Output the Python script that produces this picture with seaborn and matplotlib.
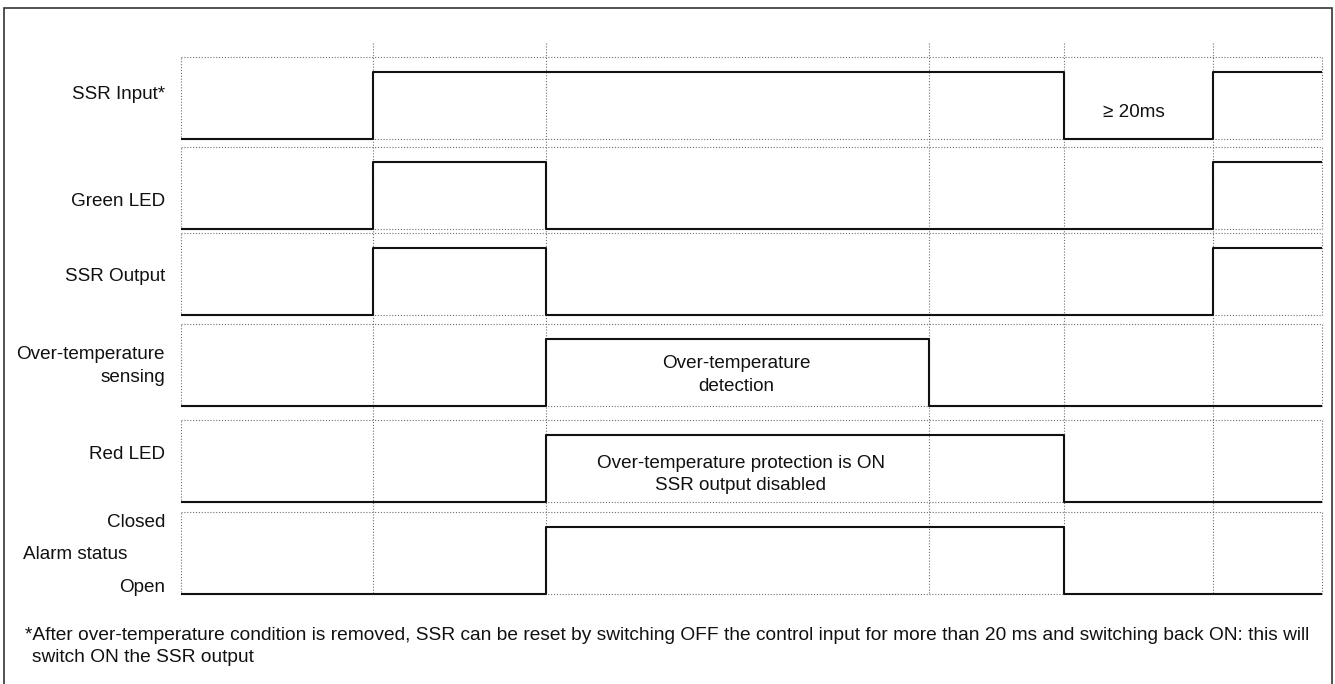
import matplotlib
matplotlib.use("Agg")
import matplotlib.pyplot as plt
from matplotlib.patches import Rectangle
import pandas as pd
import seaborn as sns

# Timing grid instants (arbitrary time units) and the signal traces
grid_times = [0, 19.2, 36.5, 74.8, 88.3, 103.2, 114.1]

signal_names = ["SSR Input*", "Green LED", "SSR Output",
                "Over-temperature sensing", "Red LED", "Alarm status"]
ssr_input_t = [0, 19.2, 88.3, 103.2, 114.1]
ssr_input_v = [0, 1, 0, 1, 1]
green_led_t = [0, 19.2, 36.5, 103.2, 114.1]
green_led_v = [0, 1, 0, 1, 1]
ssr_output_t = [0, 19.2, 36.5, 103.2, 114.1]
ssr_output_v = [0, 1, 0, 1, 1]
overtemp_t = [0, 36.5, 74.8, 114.1]
overtemp_v = [0, 1, 0, 0]
red_led_t = [0, 36.5, 88.3, 114.1]
red_led_v = [0, 1, 0, 0]
alarm_t = [0, 36.5, 88.3, 114.1]
alarm_v = [0, 1, 0, 0]

traces = [(ssr_input_t, ssr_input_v), (green_led_t, green_led_v),
          (ssr_output_t, ssr_output_v), (overtemp_t, overtemp_v),
          (red_led_t, red_led_v), (alarm_t, alarm_v)]

# layout of the rows (diagram units, downward)
W, H = 1335, 684
row_low = [139.3, 228.7, 315.5, 406, 502, 594.3]
amp = 67
box_pad = 15
y_top, y_bot = 43, 600
x_left, x_right = 180.5, 1321.7

rows = []
for name, (t, v), base in zip(signal_names, traces, row_low):
    for ti, vi in zip(t, v):
        rows.append({"signal": name, "time": ti, "y": base - vi * amp})
df = pd.DataFrame(rows)

sns.set_theme(style="white")
plt.rcParams["font.family"] = ["Liberation Sans", "DejaVu Sans"]

fig = plt.figure(figsize=(W / 100, H / 100), dpi=100)
ax = fig.add_axes([x_left / W, 1 - y_bot / H, (x_right - x_left) / W, (y_bot - y_top) / H])
ax.set_xlim(grid_times[0], grid_times[-1])
ax.set_ylim(y_bot, y_top)
ax.axis("off")

dot = dict(color="#6e6e6e", lw=0.8, linestyle=(0, (1, 1.6)))

# dotted row boxes and time grid
for base in row_low:
    ax.add_patch(Rectangle((grid_times[0], base - amp - box_pad), grid_times[-1] - grid_times[0],
                           amp + box_pad, fill=False, edgecolor=dot["color"], lw=dot["lw"],
                           linestyle=dot["linestyle"], clip_on=False))
ax.vlines(grid_times[1:-1], y_top, row_low[-1], **dot)

sns.lineplot(data=df, x="time", y="y", units="signal", estimator=None,
             drawstyle="steps-post", color="#111111", lw=1.5, ax=ax, legend=False)
ax.set_xlim(grid_times[0], grid_times[-1])
ax.set_ylim(y_bot, y_top)

fs = 13.6
def ftext(x, y, s, size=fs, **kw):
    fig.text(x / W, 1 - y / H, s, fontsize=size, color="#111111", va="baseline", **kw)

# row labels
ftext(165, 99, "SSR Input*", ha="right")
ftext(165, 206, "Green LED", ha="right")
ftext(165, 281, "SSR Output", ha="right")
ftext(165, 359, "Over-temperature", ha="right")
ftext(165, 382, "sensing", ha="right")
ftext(165, 459, "Red LED", ha="right")
ftext(165, 527, "Closed", ha="right")
ftext(23, 559, "Alarm status", ha="left")
ftext(165, 592, "Open", ha="right")

# annotations inside the traces
def atext(t, y, s):
    ax.text(t, y, s, fontsize=fs, color="#111111", ha="center", va="baseline")

atext((88.3 + 103.2) / 2 - 0.4, 117, "\u2265 20ms")
atext(55.6, 368, "Over-temperature")
atext(55.6, 391, "detection")
atext(56.0, 468, "Over-temperature protection is ON")
atext(56.0, 490, "SSR output disabled")

# footnote
ftext(25, 640, "*After over-temperature condition is removed, SSR can be reset by switching OFF "
      "the control input for more than 20 ms and switching back ON: this will", size=13.8, ha="left")
ftext(32, 662, "switch ON the SSR output", size=13.8, ha="left")

# outer frame
fig.patches.append(Rectangle((4 / W, -0.02), (1332 - 4) / W, 1.02 - 8 / H, transform=fig.transFigure,
                             fill=False, edgecolor="#333333", lw=1.2))

fig.savefig("out.png", dpi=100, facecolor="white")
